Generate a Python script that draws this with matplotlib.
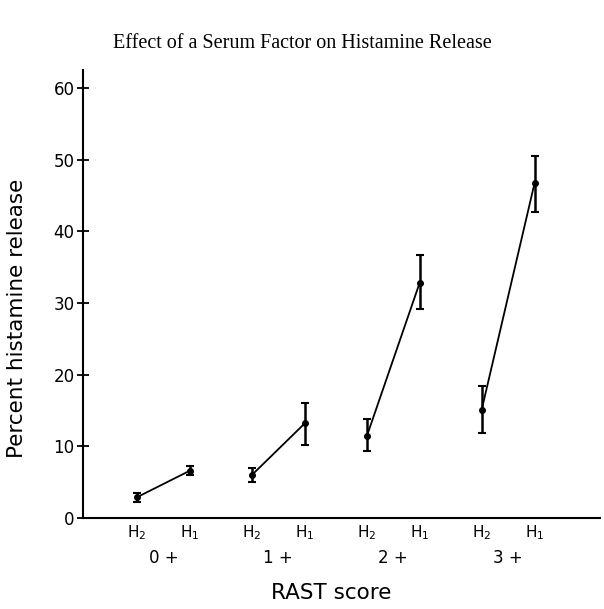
import matplotlib.pyplot as plt
from matplotlib import transforms

# data
groups = ["0 +", "1 +", "2 +", "3 +"]
h2_mean = [2.9, 6.0, 11.4, 15.1]
h2_low = [2.2, 5.0, 9.3, 11.9]
h2_high = [3.5, 7.0, 13.8, 18.4]
h1_mean = [6.6, 13.2, 32.8, 46.7]
h1_low = [6.0, 10.2, 29.1, 42.7]
h1_high = [7.3, 16.0, 36.7, 50.5]
y_ticks = [0, 10, 20, 30, 40, 50, 60]

H1_OFFSET = 0.46

fig = plt.figure(figsize=(6.04, 6.09), dpi=100)
ax = fig.add_axes([0.1374, 0.1494, 0.856, 0.7356])

for g in range(len(groups)):
    x2 = g
    x1 = g + H1_OFFSET
    ax.plot([x2, x1], [h2_mean[g], h1_mean[g]], color="black", lw=1.3)
    for x, m, lo, hi in [(x2, h2_mean[g], h2_low[g], h2_high[g]),
                         (x1, h1_mean[g], h1_low[g], h1_high[g])]:
        ax.errorbar([x], [m], yerr=[[m - lo], [hi - m]], fmt="o", color="black",
                    ms=4, elinewidth=1.8, capsize=3, capthick=1.5)

ax.set_xlim(-0.47, 4.03)
ax.set_ylim(0, 62.5)
ax.spines["top"].set_visible(False)
ax.spines["right"].set_visible(False)
ax.spines["left"].set_linewidth(1.5)
ax.spines["bottom"].set_linewidth(1.5)

ax.set_yticks(y_ticks)
ax.set_yticklabels([str(v) for v in y_ticks], fontsize=12)
ax.tick_params(axis="y", direction="inout", length=8, width=1.3, pad=2)

xt = []
xl = []
for g in range(len(groups)):
    xt += [g, g + H1_OFFSET]
    xl += [r"H$_2$", r"H$_1$"]
ax.set_xticks(xt)
ax.set_xticklabels(xl, fontsize=11)
ax.tick_params(axis="x", length=0, pad=4)

trans = transforms.blended_transform_factory(ax.transData, ax.transAxes)
for g, name in enumerate(groups):
    ax.text(g + H1_OFFSET / 2, -0.09, name, transform=trans, ha="center",
            va="center", fontsize=12)

ax.set_xlabel("RAST score", fontsize=15.5)
ax.xaxis.set_label_coords(0.48, -0.146)
ax.set_ylabel("Percent histamine release", fontsize=15.5)
ax.yaxis.set_label_coords(-0.108, 0.446)

fig.text(0.5, 0.929, "Effect of a Serum Factor on Histamine Release",
         ha="center", va="center", family="Liberation Serif", fontsize=14.5)

plt.savefig("out.png", dpi=100)
